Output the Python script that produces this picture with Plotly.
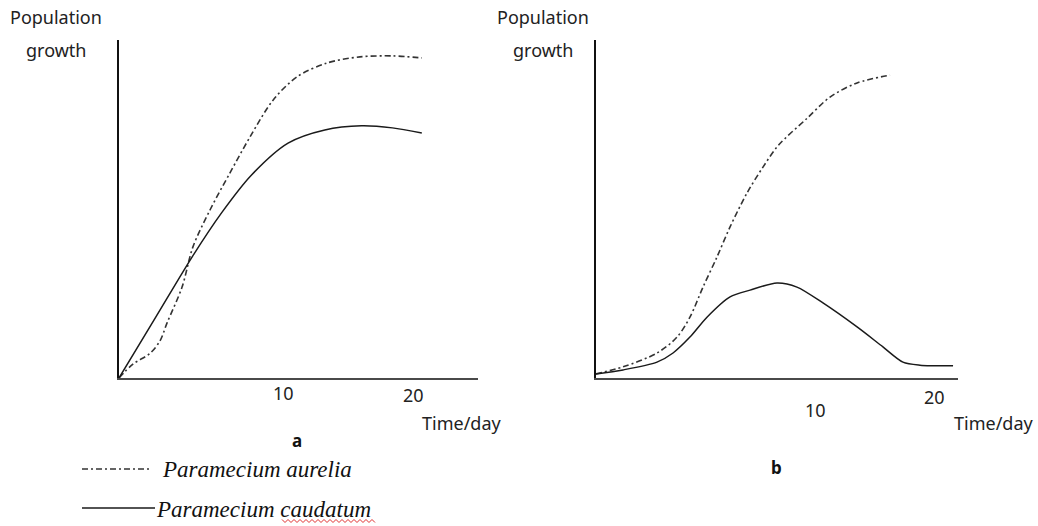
import plotly.graph_objects as go

# ---- data ----
# Panel a (time in days, population in relative units)
a_aurelia_t = [0, 0.95, 2.11, 2.79, 3.27, 4.29, 5.03, 6.19, 7.55, 8.91, 10.48, 12.11, 14.15, 16.39, 18.64, 20.61]
a_aurelia_p = [0, 4.1, 7.3, 11.0, 16.3, 26.9, 38.8, 49.7, 60.7, 71.3, 82.2, 89.1, 93.2, 95.0, 95.3, 94.7]
a_caudatum_t = [0, 2.5, 5.0, 7.0, 9.0, 11.5, 14.0, 16.5, 18.6, 20.6]
a_caudatum_p = [0, 18.0, 36.0, 49.0, 60.0, 69.5, 73.4, 74.6, 74.0, 72.5]

# Panel b
b_aurelia_t = [0, 1.84, 4.15, 5.51, 6.39, 7.28, 8.23, 9.12, 10.27, 11.36, 12.4, 14.35, 15.92, 17.76, 20.0]
b_aurelia_p = [1.2, 3.3, 7.4, 12.1, 18.0, 26.9, 35.8, 44.7, 54.7, 62.4, 68.8, 76.8, 83.1, 87.3, 89.6]
b_caudatum_t = [0, 1.84, 4.15, 5.24, 6.39, 7.55, 9.12, 10.48, 12.31, 13.67, 15.44, 17.76, 19.52, 20.88, 22.04, 24.29]
b_caudatum_p = [1.2, 2.4, 4.7, 7.4, 12.1, 18.0, 24.0, 26.0, 28.1, 26.9, 22.2, 15.1, 9.2, 4.7, 3.8, 3.6]

tick_labels = ["10", "20"]
a_tick_pos = [11.22, 20.0]
b_tick_pos = [14.9, 23.05]

y_title_lines = ["Population", "growth"]
x_title = "Time/day"
panel_labels = ["a", "b"]
series_names = ["Paramecium aurelia", "Paramecium caudatum"]

W, H = 1038, 526
def px(x):
    return x / W
def py(y):
    return 1 - y / H

DASH = "6px,3px,2px,3px"
SOLID_COL = "#1a1a1a"
DASH_COL = "#333333"
FONT = "Noto Sans"

fig = go.Figure()
fig.add_trace(go.Scatter(x=a_aurelia_t, y=a_aurelia_p, mode="lines", xaxis="x", yaxis="y",
                         line=dict(color=DASH_COL, width=1.6, dash=DASH, shape="spline", smoothing=0.9),
                         name=series_names[0], showlegend=False))
fig.add_trace(go.Scatter(x=a_caudatum_t, y=a_caudatum_p, mode="lines", xaxis="x", yaxis="y",
                         line=dict(color=SOLID_COL, width=1.5, shape="spline", smoothing=0.8),
                         name=series_names[1], showlegend=False))
fig.add_trace(go.Scatter(x=b_aurelia_t, y=b_aurelia_p, mode="lines", xaxis="x2", yaxis="y2",
                         line=dict(color=DASH_COL, width=1.6, dash=DASH, shape="spline", smoothing=0.9),
                         name=series_names[0], showlegend=False))
fig.add_trace(go.Scatter(x=b_caudatum_t, y=b_caudatum_p, mode="lines", xaxis="x2", yaxis="y2",
                         line=dict(color=SOLID_COL, width=1.5, shape="spline", smoothing=0.8),
                         name=series_names[1], showlegend=False))

ax_common_x = dict(showgrid=False, zeroline=False, showticklabels=False, ticks="",
                   showline=True, linecolor="#4a4a4a", linewidth=2, fixedrange=True)
ax_common_y = dict(showgrid=False, zeroline=False, showticklabels=False, ticks="",
                   showline=True, linecolor="#111111", linewidth=1.5, fixedrange=True)

ydom = [py(378), py(40)]
fig.update_layout(
    width=W, height=H,
    margin=dict(l=0, r=0, t=0, b=0),
    paper_bgcolor="white", plot_bgcolor="white",
    xaxis=dict(domain=[px(119), px(478)], range=[0, (478 - 119) / 14.7], anchor="y", **ax_common_x),
    yaxis=dict(domain=ydom, range=[0, 100], anchor="x", **ax_common_y),
    xaxis2=dict(domain=[px(596), px(958)], range=[0, (958 - 596) / 14.7], anchor="y2", **ax_common_x),
    yaxis2=dict(domain=ydom, range=[0, 100], anchor="x2", **ax_common_y),
    showlegend=False,
)

ann = []
tf = dict(family=FONT, size=18, color="#222222")
# y titles (two lines each, wide line spacing as in the reference)
for cx in (56, 543):
    for line_txt, ly in zip(y_title_lines, (17, 50)):
        ann.append(dict(text=line_txt, x=px(cx), y=py(ly), xref="paper", yref="paper", showarrow=False,
                        font=tf, xanchor="center", yanchor="middle"))
# tick labels
a_tick_y = [393, 395]
b_tick_y = [410, 397]
for t, xv, yv in zip(tick_labels, a_tick_pos, a_tick_y):
    ann.append(dict(text=t, x=px(119 + xv * 14.7), y=py(yv), xref="paper", yref="paper",
                    showarrow=False, font=tf, xanchor="center", yanchor="middle"))
for t, xv, yv in zip(tick_labels, b_tick_pos, b_tick_y):
    ann.append(dict(text=t, x=px(596 + xv * 14.7), y=py(yv), xref="paper", yref="paper",
                    showarrow=False, font=tf, xanchor="center", yanchor="middle"))
# x titles
ann.append(dict(text=x_title, x=px(461), y=py(423), xref="paper", yref="paper", showarrow=False,
                font=tf, xanchor="center", yanchor="middle"))
ann.append(dict(text=x_title, x=px(993), y=py(423), xref="paper", yref="paper", showarrow=False,
                font=tf, xanchor="center", yanchor="middle"))
# panel labels
bf = dict(family=FONT, size=17, color="#111111")
ann.append(dict(text="<b>%s</b>" % panel_labels[0], x=px(297), y=py(440), xref="paper", yref="paper",
                showarrow=False, font=bf, xanchor="center", yanchor="middle"))
ann.append(dict(text="<b>%s</b>" % panel_labels[1], x=px(776), y=py(467), xref="paper", yref="paper",
                showarrow=False, font=bf, xanchor="center", yanchor="middle"))
# legend texts
lf = dict(family="Liberation Serif", size=23, color="#111111")
ann.append(dict(text="<i>%s</i>" % series_names[0], x=px(160), y=py(469), xref="paper", yref="paper",
                showarrow=False, font=lf, xanchor="left", yanchor="middle"))
ann.append(dict(text="<i>%s</i>" % series_names[1], x=px(154), y=py(509), xref="paper", yref="paper",
                showarrow=False, font=lf, xanchor="left", yanchor="middle"))
fig.update_layout(annotations=ann)

# spell-check style wavy underline under "caudatum"
x0w, x1w, yw = 282, 376, 521
pts = []
xw = x0w
k = 0
while xw <= x1w:
    yy = yw + (1.5 if k % 2 else -1.5)
    pts.append("%s%.5f,%.5f" % ("M" if k == 0 else "L", px(xw), py(yy)))
    xw += 3
    k += 1
wave_path = " ".join(pts)

shapes = [
    dict(type="line", xref="paper", yref="paper", x0=px(82), x1=px(152), y0=py(469), y1=py(469),
         line=dict(color=DASH_COL, width=1.3, dash=DASH)),
    dict(type="line", xref="paper", yref="paper", x0=px(82), x1=px(155), y0=py(508), y1=py(508),
         line=dict(color=SOLID_COL, width=1.6)),
    dict(type="path", xref="paper", yref="paper", path=wave_path,
         line=dict(color="#e03030", width=1)),
]
fig.update_layout(shapes=shapes)

fig.write_html("out.html", config={"displayModeBar": False},
               post_script="document.body.style.margin='0';document.body.style.overflow='hidden';")
